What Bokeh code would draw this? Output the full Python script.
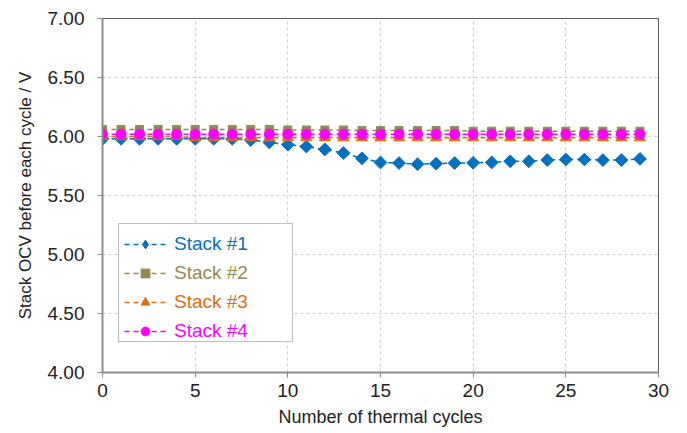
import math
from bokeh.plotting import figure
from bokeh.models import (FixedTicker, NumeralTickFormatter, Range1d, Legend,
                          LegendItem, CDSView, IndexFilter, ColumnDataSource)
from bokeh.embed import file_html
from bokeh.resources import INLINE

cycles = list(range(30))
stack1 = [5.98, 5.98, 5.98, 5.98, 5.98, 5.98, 5.98, 5.98, 5.97, 5.95,
          5.93, 5.915, 5.89, 5.86, 5.815, 5.78, 5.775, 5.765, 5.77, 5.775,
          5.777, 5.78, 5.79, 5.79, 5.80, 5.805, 5.805, 5.80, 5.80, 5.81]
stack2 = [6.06, 6.06, 6.06, 6.06, 6.06, 6.06, 6.06, 6.06, 6.06, 6.06,
          6.055, 6.055, 6.055, 6.055, 6.05, 6.05, 6.05, 6.05, 6.05, 6.05,
          6.045, 6.045, 6.045, 6.045, 6.045, 6.045, 6.045, 6.045, 6.045, 6.045]
stack3 = [6.00, 6.00, 6.00, 6.00, 6.00, 5.99, 5.99, 5.99, 5.99, 5.99,
          5.99, 5.99, 5.99, 5.99, 5.99, 5.99, 5.99, 5.99, 5.99, 5.99,
          5.99, 5.99, 5.99, 5.99, 5.99, 5.99, 5.99, 5.99, 5.99, 5.99]
stack4 = [6.02] * 30

names = ["Stack #1", "Stack #2", "Stack #3", "Stack #4"]
colors = ["#0070C0", "#938953", "#E36C09", "#FF00FF"]
markers = ["square", "square", "triangle", "circle"]
angles = [math.pi / 4, 0, 0, 0]
sizes = [9, 8, 11, 10]
series = [stack1, stack2, stack3, stack4]

x_ticks = [0, 5, 10, 15, 20, 25, 30]
y_ticks = [4.0, 4.5, 5.0, 5.5, 6.0, 6.5, 7.0]

p = figure(frame_width=556, frame_height=354, width=680, height=432,
           output_backend="svg", toolbar_location=None,
           x_range=Range1d(0, 30), y_range=Range1d(4, 7),
           min_border_left=102, min_border_top=18, min_border_right=22,
           min_border_bottom=60)
p.background_fill_color = "white"
p.border_fill_color = "white"
p.outline_line_color = "#595959"
p.outline_line_width = 1

FONT = "Liberation Sans"
for ax in (p.xaxis, p.yaxis):
    ax.axis_line_color = "#8c8c8c"
    ax.axis_line_width = 2
    ax.major_tick_line_color = "#8c8c8c"
    ax.major_tick_out = 5
    ax.major_tick_in = 0
    ax.minor_tick_line_color = None
    ax.major_label_text_font = FONT
    ax.major_label_text_font_size = "19px"
    ax.major_label_text_color = "#222222"
    ax.axis_label_text_font = FONT
    ax.axis_label_text_font_style = "normal"
    ax.axis_label_text_color = "#222222"

p.xaxis.axis_label_text_font_size = "18px"
p.yaxis.axis_label_text_font_size = "17px"
p.xaxis.ticker = FixedTicker(ticks=x_ticks)
p.yaxis.ticker = FixedTicker(ticks=y_ticks)
p.yaxis.formatter = NumeralTickFormatter(format="0.00")
p.xaxis.axis_label = "Number of thermal cycles"
p.yaxis.axis_label = "Stack OCV before each cycle / V"
p.xaxis.major_label_standoff = 6
p.xaxis.axis_label_standoff = 7
p.yaxis.major_label_standoff = 13
p.yaxis.axis_label_standoff = 10

p.xgrid.grid_line_color = "#d0d0d0"
p.xgrid.grid_line_dash = "3 3"
p.ygrid.grid_line_color = "#d0d0d0"
p.ygrid.grid_line_dash = "3 3"

pairs = []
for i, (name, col, mk, ang, sz, ys) in enumerate(zip(names, colors, markers,
                                                     angles, sizes, series)):
    src = ColumnDataSource(dict(x=cycles, y=ys))
    ln = p.line("x", "y", source=src, line_color=col, line_width=1.5,
                line_dash="5 4")
    sc = p.scatter("x", "y", source=src, marker=mk, size=sz, angle=ang,
                   fill_color=col, line_color=col)
    if i == 0:
        # diamond hidden inside the first rotated-square marker;
        # it supplies the diamond glyph for the legend
        lg_sc = p.scatter("x", "y", source=src, marker="diamond", size=11,
                          fill_color=col, line_color=col,
                          view=CDSView(filter=IndexFilter(indices=[0])))
        pairs.append([ln, lg_sc])
    else:
        pairs.append([ln, sc])

# legend geometry (screen px relative to frame)
PAD = 4
H = 22
SP = 7
X0, Y0 = 16, 30
DX = 6

def style(lg):
    lg.label_text_font = FONT
    lg.label_text_font_size = "19px"
    lg.glyph_width = 42
    lg.glyph_height = H
    lg.label_height = H
    lg.label_standoff = 8
    lg.spacing = SP
    lg.padding = PAD
    lg.margin = 0

# the frame of the legend: invisible items, fixed label width
blank_src = ColumnDataSource(dict(x=cycles, y=stack1))
blank = p.scatter("x", "y", source=blank_src, marker="circle", fill_alpha=0,
                  line_alpha=0, view=CDSView(filter=IndexFilter(indices=[0])))
box = Legend(items=[LegendItem(label=" ", renderers=[blank]) for _ in names],
             location=(X0, Y0))
style(box)
box.label_width = 115
box.label_text_alpha = 0
box.border_line_color = "#7f7f7f"
box.border_line_width = 1.5
box.background_fill_color = "white"
box.background_fill_alpha = 1.0
p.add_layout(box, "center")

# coloured labels, one legend per series, overlaid on the frame
for i, (n, r, col) in enumerate(zip(names, pairs, colors)):
    lg = Legend(items=[LegendItem(label=n, renderers=r)],
                location=(X0 + DX, Y0 + (3 - i) * (H + SP)))
    style(lg)
    lg.label_text_color = col
    lg.border_line_color = None
    lg.background_fill_alpha = 0
    p.add_layout(lg, "center")

open("out.html", "w").write(file_html(p, INLINE))
